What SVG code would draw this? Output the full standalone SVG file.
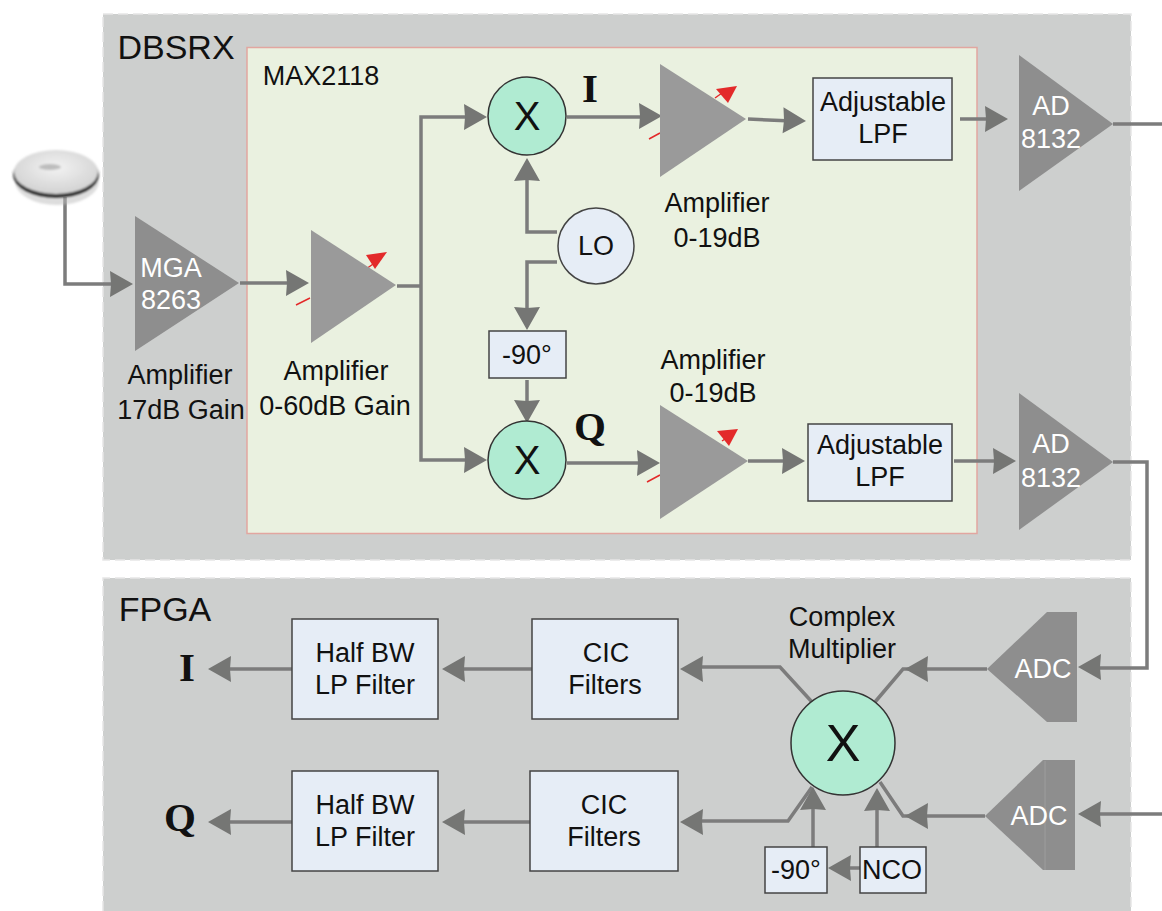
<svg xmlns="http://www.w3.org/2000/svg" width="1162" height="911" viewBox="0 0 1162 911">
<style>
text{font-family:"Liberation Sans",Arial,sans-serif;fill:#111;text-anchor:middle;font-size:27px}
.w{fill:#fff}
.s{font-family:"Liberation Serif",serif;font-weight:bold;font-size:41px}
.c{fill:none;stroke:#7c7c7c;stroke-width:3.5}
.b{fill:#e6edf6;stroke:#444;stroke-width:1.5}
.m{fill:#b0ebd2;stroke:#333;stroke-width:1.5}
.t{fill:#8e8e8e}
.t2{fill:#9a9a9a}
.r{fill:#e32a2a}
.rl{stroke:#e32a2a;stroke-width:1.5;fill:none}
.pe{fill:none;stroke:#e6e6e6;stroke-width:1.5;stroke-dasharray:10 5}
</style>
<defs>
<radialGradient id="disc" cx="50%" cy="40%" r="60%"><stop offset="0" stop-color="#f2f2f2"/><stop offset="1" stop-color="#d2d2d2"/></radialGradient>
<filter id="soft" x="-20%" y="-20%" width="140%" height="140%"><feGaussianBlur stdDeviation="0.8"/></filter>
<path id="ah" d="M-23 -13L0 0L-23 13L-22 0Z" fill="#757674"/>
</defs>
<rect id="dbsrx" x="103" y="14" width="1028" height="546" fill="#cdcfce"/>
<rect id="fpga" x="103" y="578" width="1028" height="333" fill="#cdcfce"/>
<path class="pe" d="M103 14H1131V560H103Z M103 911V578H1131V911"/>
<rect id="max2118" x="247" y="47.500" width="730" height="486" fill="#eaf1e0" stroke="#e2a6a0" stroke-width="1.500"/>
<text x="176" y="59" style="font-size:34px">DBSRX</text>
<text x="321" y="85">MAX2118</text>
<text x="165" y="621" style="font-size:34px">FPGA</text>

<g id="connectors">
<path class="c" d="M65 197V284H116"/>
<path class="c" d="M240 283H292"/>
<path class="c" d="M397 286H421V117H470M421 286V460H470"/>
<path class="c" d="M567 117H645M748 119L792 121"/>
<path class="c" d="M960 119H992M1113 124H1162"/>
<path class="c" d="M557 232H527V175M557 262H527V315M527 380V408"/>
<path class="c" d="M567 463H645M748 461H790M954 461H1000"/>
<path class="c" d="M1113 462H1147V668H1095"/>
<path class="c" d="M987 669H903L875 702M812 702L780 667H696M532 669H462M292 669H225"/>
<path class="c" d="M985 816H903L880 782M812 787L788 821H696M530 822H462M292 822H225"/>
<path class="c" d="M1162 814H1095M813 847V800M877 847V800M860 868H842"/>
<g>
<use href="#ah" transform="translate(133 284)"/>
<use href="#ah" transform="translate(309 283)"/>
<use href="#ah" transform="translate(487 117)"/>
<use href="#ah" transform="translate(487 460)"/>
<use href="#ah" transform="translate(662 116)"/>
<use href="#ah" transform="translate(806 121) rotate(2)"/>
<use href="#ah" transform="translate(1008 119)"/>
<use href="#ah" transform="translate(527 158) rotate(-90)"/>
<use href="#ah" transform="translate(527 330) rotate(90)"/>
<use href="#ah" transform="translate(527 423) rotate(90)"/>
<use href="#ah" transform="translate(660 463)"/>
<use href="#ah" transform="translate(805 461)"/>
<use href="#ah" transform="translate(1016 461)"/>
<use href="#ah" transform="translate(1078 667) rotate(180)"/>
<use href="#ah" transform="translate(1078 814) rotate(180)"/>
<use href="#ah" transform="translate(905 669) rotate(180)"/>
<use href="#ah" transform="translate(905 816) rotate(180)"/>
<use href="#ah" transform="translate(680 669) rotate(180)"/>
<use href="#ah" transform="translate(680 822) rotate(180)"/>
<use href="#ah" transform="translate(442 669) rotate(180)"/>
<use href="#ah" transform="translate(442 822) rotate(180)"/>
<use href="#ah" transform="translate(208 669) rotate(180)"/>
<use href="#ah" transform="translate(208 822) rotate(180)"/>
<use href="#ah" transform="translate(813 787) rotate(-90)"/>
<use href="#ah" transform="translate(877 788) rotate(-90)"/>
<use href="#ah" transform="translate(828 868) rotate(180)"/>
</g>
</g>

<g id="antenna" filter="url(#soft)">
<ellipse cx="57" cy="181" rx="42" ry="24" fill="#bbb" opacity=".5"/>
<ellipse cx="56" cy="175" rx="43" ry="23" fill="#333"/>
<ellipse cx="56" cy="172" rx="42" ry="22" fill="url(#disc)"/>
<ellipse cx="50" cy="167" rx="11" ry="3" fill="#bdbdbd"/>
</g>

<g id="mga8263">
<path class="t" d="M135 216L239 283L135 351Z"/>
<text class="w" x="171" y="277">MGA</text><text class="w" x="171" y="309">8263</text>
</g>
<text x="180" y="384">Amplifier</text><text x="181" y="419">17dB Gain</text>

<g id="amp1">
<path class="rl" d="M296 305L310 298M366 269L376 262"/><path class="r" d="M366 255L387 252L375 269Z"/>
<path class="t2" d="M311 230L396 285L311 343Z"/>
<text x="336" y="380">Amplifier</text><text x="335" y="415">0-60dB Gain</text>
</g>

<g id="mixerI"><circle class="m" cx="527" cy="116" r="39"/><text x="527" y="130" style="font-size:40px">X</text></g>
<g id="mixerQ"><circle class="m" cx="527" cy="460" r="39"/><text x="527" y="474" style="font-size:40px">X</text></g>
<text class="s" x="590" y="102">I</text>
<text class="s" x="590" y="440">Q</text>

<g id="lo"><circle cx="596" cy="246" r="38" fill="#e6edf6" stroke="#444" stroke-width="1.500"/><text x="596" y="255">LO</text></g>
<g id="ph1"><rect class="b" x="489" y="331" width="77" height="47"/><text x="527" y="364">-90°</text></g>

<g id="ampI">
<path class="rl" d="M649 139L660 133M715 98L722 93"/><path class="r" d="M716 89L737 86L728 103Z"/>
<path class="t2" d="M660 64L746 119L660 177Z"/>
<text x="717" y="212">Amplifier</text><text x="717" y="247">0-19dB</text>
</g>
<g id="ampQ">
<path class="rl" d="M647 482L660 475M722 441L728 437"/><path class="r" d="M717 431L738 429L729 446Z"/>
<path class="t2" d="M660 405L748 461L660 519Z"/>
<text x="713" y="369">Amplifier</text><text x="713" y="402">0-19dB</text>
</g>
<g id="lpfI"><rect class="b" x="813" y="78" width="139" height="82"/><text x="883" y="111">Adjustable</text><text x="883" y="143">LPF</text></g>
<g id="lpfQ"><rect class="b" x="808" y="424" width="144" height="77"/><text x="880" y="454">Adjustable</text><text x="880" y="486">LPF</text></g>
<g id="ad1"><path class="t" d="M1019 55L1113 124L1019 191Z"/><text class="w" x="1051" y="115">AD</text><text class="w" x="1051" y="148">8132</text></g>
<g id="ad2"><path class="t" d="M1019 393L1113 462L1019 530Z"/><text class="w" x="1051" y="453">AD</text><text class="w" x="1051" y="487">8132</text></g>

<g id="adc1"><path class="t" d="M987 669L1047 612H1077V722H1047Z"/><text class="w" x="1043" y="678">ADC</text></g>
<g id="adc2"><path class="t" d="M985 816L1043 760H1075V870H1043Z"/><path d="M1045 761V870" stroke="#9d9d9d"/><text class="w" x="1039" y="825">ADC</text></g>

<g id="cmul"><circle class="m" cx="843" cy="743" r="52"/><text x="843" y="761" style="font-size:52px">X</text></g>
<text x="842" y="626">Complex</text><text x="842" y="658">Multiplier</text>

<g id="nco"><rect class="b" x="860" y="847" width="66" height="46"/><text x="892" y="879">NCO</text></g>
<g id="ph2"><rect class="b" x="765" y="847" width="62" height="46"/><text x="796" y="879">-90°</text></g>
<g id="cic1"><rect class="b" x="532" y="619" width="146" height="100"/><text x="606" y="662">CIC</text><text x="605" y="694">Filters</text></g>
<g id="cic2"><rect class="b" x="530" y="771" width="148" height="100"/><text x="604" y="814">CIC</text><text x="604" y="846">Filters</text></g>
<g id="hb1"><rect class="b" x="292" y="619" width="146" height="100"/><text x="365" y="662">Half BW</text><text x="365" y="694">LP Filter</text></g>
<g id="hb2"><rect class="b" x="292" y="771" width="146" height="100"/><text x="365" y="814">Half BW</text><text x="365" y="846">LP Filter</text></g>
<text class="s" x="187" y="681">I</text>
<text class="s" x="180" y="831">Q</text>
</svg>
